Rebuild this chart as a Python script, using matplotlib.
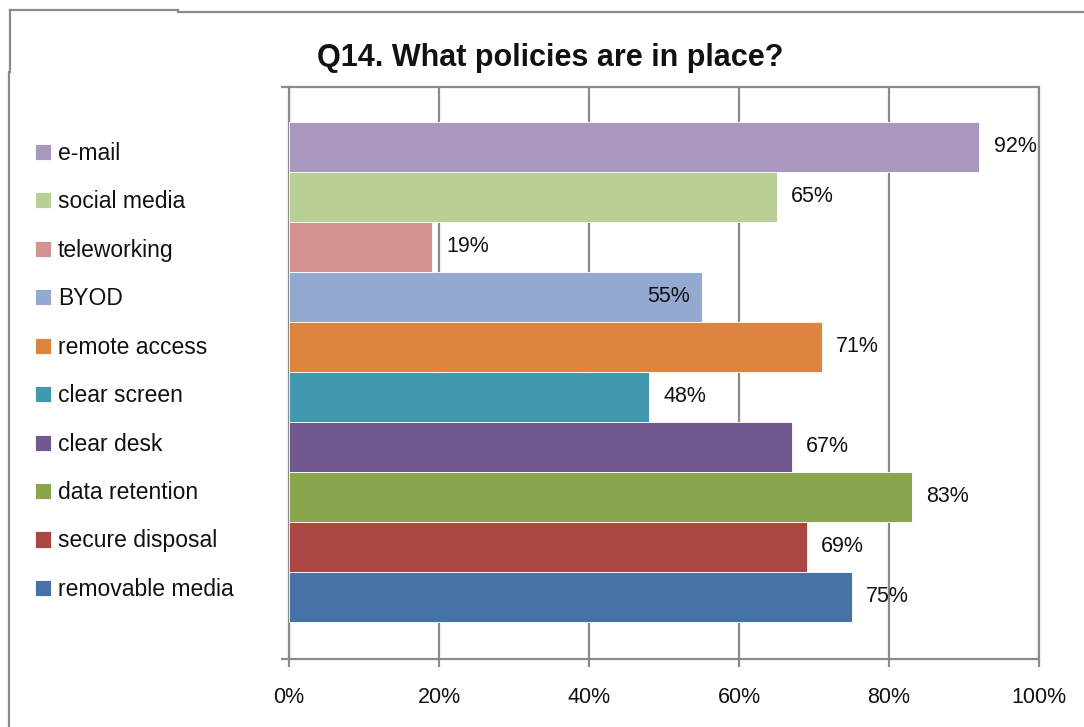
import matplotlib
matplotlib.use("Agg")
import matplotlib.pyplot as plt
from matplotlib.lines import Line2D

categories = ["e-mail", "social media", "teleworking", "BYOD", "remote access",
              "clear screen", "clear desk", "data retention", "secure disposal",
              "removable media"]
values = [0.92, 0.65, 0.19, 0.55, 0.71, 0.48, 0.67, 0.83, 0.69, 0.75]
value_labels = ["92%", "65%", "19%", "55%", "71%", "48%", "67%", "83%", "69%", "75%"]
colors = ["#A898C0", "#B9CF96", "#D49392", "#93A9D0", "#DD843E",
          "#4198AF", "#71588F", "#89A54E", "#AA4643", "#4572A7"]
xticks = [0.0, 0.2, 0.4, 0.6, 0.8, 1.0]
xtick_labels = ["0%", "20%", "40%", "60%", "80%", "100%"]
title = "Q14. What policies are in place?"

FONT = "Liberation Sans"
GRID = "#8a8a8a"
TXT = "#111111"
W, H = 1084, 727

fig = plt.figure(figsize=(W / 100, H / 100), dpi=100)
fig.patch.set_facecolor("white")
ax = fig.add_axes([289 / W, 68 / H, 750 / W, 572 / H])

for i, (cat, v, col) in enumerate(zip(categories, values, colors)):
    ax.barh(i, v, height=1.0, color=col, label=cat, edgecolor="white",
            linewidth=0.6, zorder=3)

for i, (v, lbl) in enumerate(zip(values, value_labels)):
    if lbl == "55%":
        ax.annotate(lbl, (v, i), xytext=(-8.5, 0), textcoords="offset points",
                    ha="right", va="center", fontsize=15.5, family=FONT,
                    color=TXT, zorder=5)
    else:
        ax.annotate(lbl, (v, i), xytext=(10.5, 0), textcoords="offset points",
                    ha="left", va="center", fontsize=15.5, family=FONT,
                    color=TXT, zorder=5)

ax.set_xlim(0, 1)
ax.set_ylim(10.24, -1.2)
ax.set_xticks(xticks)
ax.set_xticklabels(xtick_labels, fontsize=15.5, family=FONT, color=TXT)
ax.set_yticks([-1.2, 10.24])
ax.set_yticklabels([])
ax.tick_params(axis="x", direction="out", length=6, width=1.6, color=GRID, pad=14)
ax.tick_params(axis="y", direction="out", length=6, width=1.6, color=GRID)
ax.grid(axis="x", color=GRID, linewidth=1.6, zorder=0)
ax.set_axisbelow(True)
for s in ax.spines.values():
    s.set_color(GRID)
    s.set_linewidth(1.6)

fig.text(550 / W, 1 - 58 / H, title, ha="center", va="center",
         fontsize=22, fontweight="bold", family=FONT, color=TXT)

leg = ax.legend(loc="upper left", bbox_to_anchor=(35 / W, 1 - 142 / H),
                bbox_transform=fig.transFigure, frameon=False,
                prop={"family": FONT, "size": 16.5}, handlelength=0.7,
                handleheight=0.7, handletextpad=0.3, labelspacing=1.11,
                borderaxespad=0, borderpad=0)
for t in leg.get_texts():
    t.set_color(TXT)

# outer chart frame (partially visible)
fig.add_artist(Line2D([10 / W, 10 / W], [1 - 10 / H, 1 - 72 / H],
                      transform=fig.transFigure, color=GRID, lw=1.6))
fig.add_artist(Line2D([8.5 / W, 8.5 / W], [1 - 72 / H, 0],
                      transform=fig.transFigure, color=GRID, lw=1.6))
fig.add_artist(Line2D([10 / W, 178 / W], [1 - 10 / H, 1 - 10 / H],
                      transform=fig.transFigure, color=GRID, lw=1.6))
fig.add_artist(Line2D([178 / W, 1], [1 - 12 / H, 1 - 12 / H],
                      transform=fig.transFigure, color=GRID, lw=1.6))

fig.savefig("out.png", dpi=100, facecolor="white")
